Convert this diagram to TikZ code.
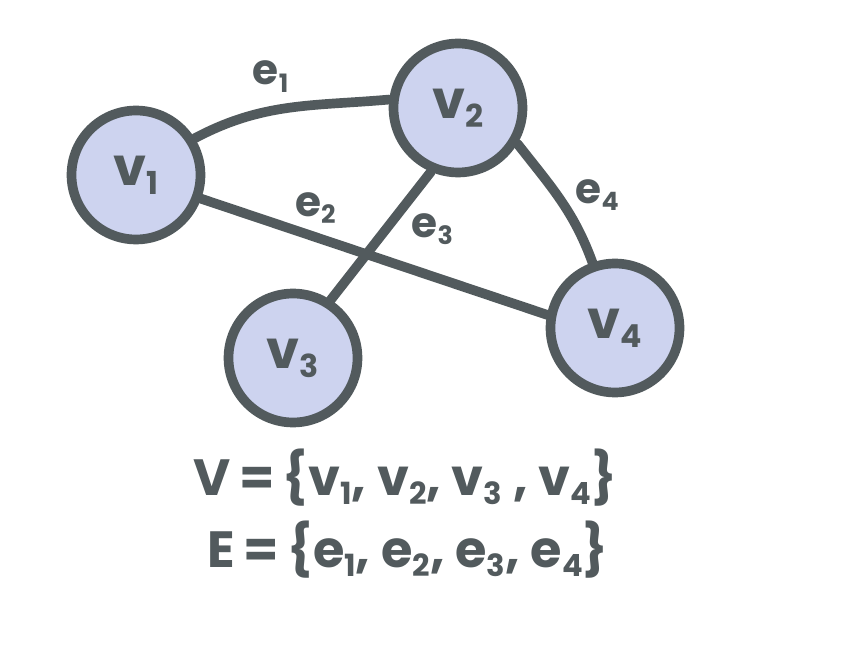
\documentclass[tikz,border=0pt]{standalone}
\usepackage{fontspec}
\setmainfont{Poppins}
\usetikzlibrary{positioning}
\definecolor{cInk}{HTML}{525A5D}
\definecolor{cFill}{HTML}{CDD3EF}
\newcommand{\ix}[1]{\raisebox{-0.3ex}{\scalebox{0.6}{#1}}}
\tikzset{
  vtx/.style={circle,draw=cInk,fill=cFill,line width=5.5pt,minimum size=2.58cm,
              inner sep=0pt,font=\fontsize{30}{34}\selectfont\bfseries,text=cInk},
  edg/.style={cInk,line width=5.5pt,line cap=round},
  lbl/.style={font=\fontsize{24}{28}\selectfont\bfseries,text=cInk,inner sep=2pt},
  settxt/.style={font=\fontsize{29}{36}\selectfont\bfseries,text=cInk},
}

\begin{document}
\begin{tikzpicture}[x=0.02cm,y=-0.02cm]
\useasboundingbox[fill=white] (0,0) rectangle (856,645);
% vertices
\node[vtx] (v1) at (136,175) {v\ix{1}};
\node[vtx] (v2) at (458,108) {v\ix{2}};
\node[vtx] (v3) at (293,358) {v\ix{3}};
\node[vtx] (v4) at (615,328) {v\ix{4}};
% edges
\draw[edg] (v1.32) to[out=28,in=185] node[lbl,pos=0.4,above=6pt]{e\ix{1}} (v2.173);
\draw[edg] (v1.-20) -- node[lbl,pos=0.33,above=3pt]{e\ix{2}} (v4.169);
\draw[edg] (v2.-113) -- node[lbl,pos=0.45,right=10pt]{e\ix{3}} (v3.57);
\draw[edg] (v2.-31) to[out=-52,in=110] node[lbl,pos=0.45,right=6pt]{e\ix{4}} (v4.109);
% sets
\node[settxt] (setV) at (405,478) {V\,=\,\{v\ix{1}, v\ix{2}, v\ix{3} , v\ix{4}\}};
\node[settxt] (setE) at (408,550) {E\,=\,\{e\ix{1}, e\ix{2}, e\ix{3}, e\ix{4}\}};
\end{tikzpicture}
\end{document}
